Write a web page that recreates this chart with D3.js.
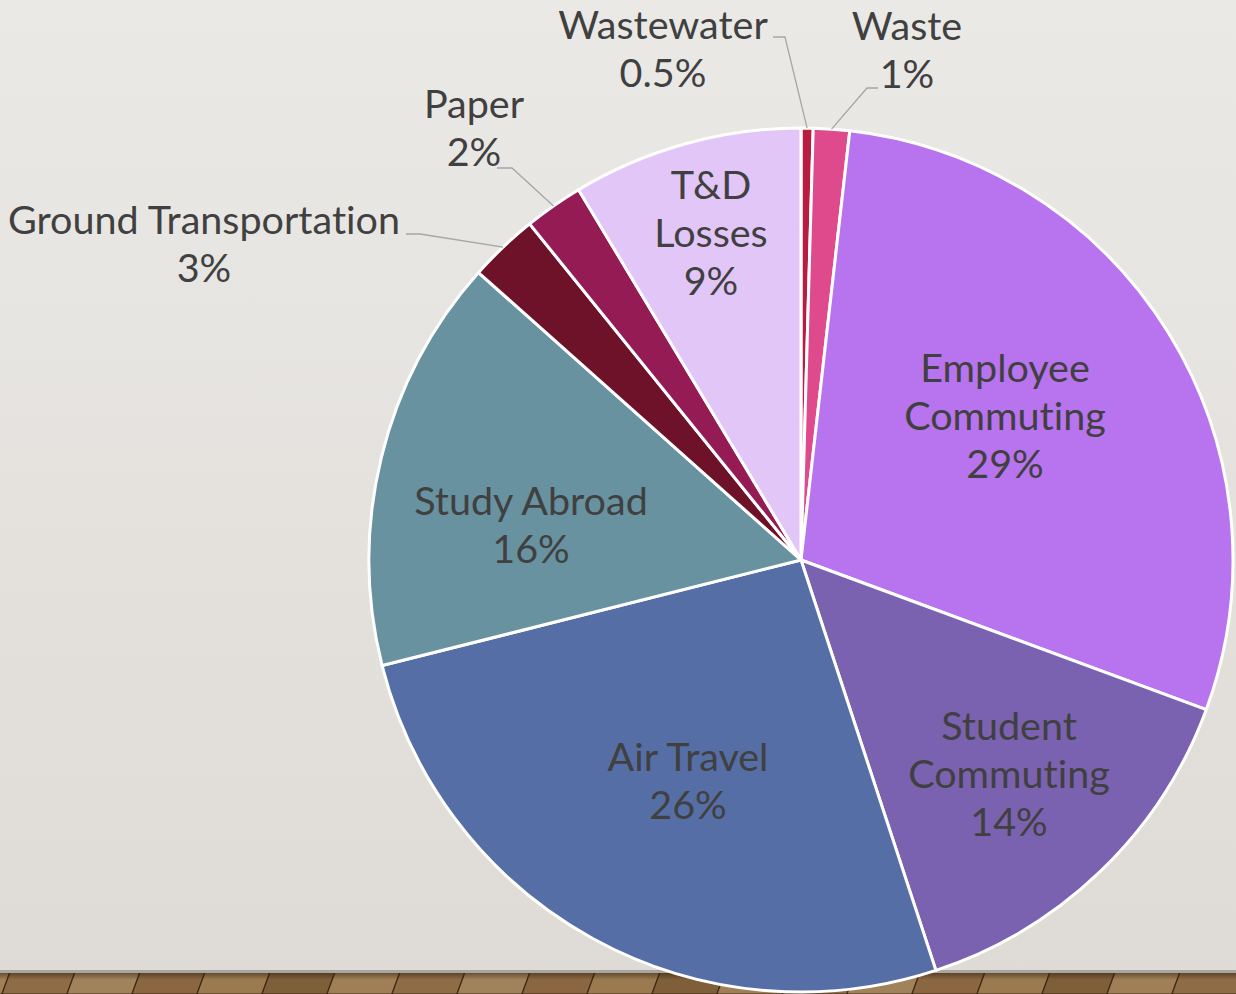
<!DOCTYPE html>
<html>
<head>
<meta charset="utf-8">
<script src="https://cdn.jsdelivr.net/npm/d3@7"></script>
<style>
  body { margin: 0; overflow: hidden; }
  svg { display: block; }
  text { font-variant-ligatures: none; }
</style>
</head>
<body>
<script>

// Slices, clockwise from 12 o'clock
var categories = ["Wastewater", "Waste", "Employee Commuting", "Student Commuting", "Air Travel",
                  "Study Abroad", "Ground Transportation", "Paper", "T&D Losses"];
var shares = [0.45, 1.35, 28.8, 14.3, 26.1, 15.5, 2.6, 2.2, 8.6];
var shareLabels = ["0.5%", "1%", "29%", "14%", "26%", "16%", "3%", "2%", "9%"];
var colors = ["#b81c40", "#de4a8c", "#b873ee", "#7a62b0", "#566ea6",
              "#6892a0", "#6e1229", "#951b55", "#e2c6f7"];

// how each category name is broken into lines
var nameLines = [["Wastewater"], ["Waste"], ["Employee", "Commuting"], ["Student", "Commuting"],
                 ["Air Travel"], ["Study Abroad"], ["Ground Transportation"], ["Paper"], ["T&D", "Losses"]];

var w = 1236;
var h = 994;
var cx = 801, cy = 560, radius = 432;
var lineGap = 48;

// label placement: centre x and first baseline, and leader line start for outside ones
var labelPos = [
  {x: 663, y: 39, outside: true, lx: 773, ly: 37, ex: 785},
  {x: 907, y: 40, outside: true, lx: 878, ly: 88, ex: 867},
  {x: 1005, y: 382},
  {x: 1009, y: 740},
  {x: 688, y: 771},
  {x: 531, y: 515},
  {x: 204, y: 234, outside: true, lx: 406, ly: 234, ex: 420},
  {x: 474, y: 118, outside: true, lx: 497, ly: 168, ex: 512},
  {x: 711, y: 199}
];

var svg = d3.select("body").append("svg")
  .attr("width", w)
  .attr("height", h);

var defs = svg.append("defs");

var wall = defs.append("linearGradient")
  .attr("id", "wall")
  .attr("x1", 0).attr("y1", 0).attr("x2", 0).attr("y2", 1);
wall.append("stop").attr("offset", "0%").attr("stop-color", "#ebe9e6");
wall.append("stop").attr("offset", "100%").attr("stop-color", "#dedbd6");

var shade = defs.append("linearGradient")
  .attr("id", "floorShade")
  .attr("x1", 0).attr("y1", 0).attr("x2", 0).attr("y2", 1);
shade.append("stop").attr("offset", "0%").attr("stop-color", "#2a1a0a").attr("stop-opacity", 0.55);
shade.append("stop").attr("offset", "35%").attr("stop-color", "#2a1a0a").attr("stop-opacity", 0);

// background wall and floor
svg.append("rect")
  .attr("width", w)
  .attr("height", h)
  .attr("fill", "url(#wall)");

var floorTop = 972;
var plankW = 65;
var plankShades = ["#8e6c46", "#a1835b", "#8a6741", "#9b7a50", "#7f5e3a", "#a07f56"];
var planks = d3.range(-1, Math.ceil(w / plankW) + 1);

svg.append("g").selectAll("polygon")
  .data(planks)
  .enter()
  .append("polygon")
  .attr("points", function(k) {
    var x0 = k * plankW + 10, x1 = (k + 1) * plankW + 10;
    return [[x0, floorTop], [x1, floorTop], [x1 - 8, h], [x0 - 8, h]].join(" ");
  })
  .attr("fill", function(k) { return plankShades[(k + 6) % plankShades.length]; })
  .attr("stroke", "#3e2914")
  .attr("stroke-width", 1.2);

svg.append("rect")
  .attr("y", floorTop)
  .attr("width", w)
  .attr("height", h - floorTop)
  .attr("fill", "url(#floorShade)");

svg.append("rect")
  .attr("y", floorTop - 2)
  .attr("width", w)
  .attr("height", 3)
  .attr("fill", "#a9a6a1");

// pie
var pie = d3.pie().sort(null).value(function(v) { return v; });
var arcs = pie(shares);

var arc = d3.arc()
  .innerRadius(0)
  .outerRadius(radius);

var edge = d3.arc()
  .innerRadius(radius)
  .outerRadius(radius);

var graph = svg.append("g")
  .attr("transform", "translate(" + cx + "," + cy + ")");

graph.selectAll("path")
  .data(arcs)
  .enter()
  .append("path")
  .attr("d", arc)
  .attr("fill", function(a, i) { return colors[i]; })
  .attr("stroke", "#ffffff")
  .attr("stroke-width", 3)
  .attr("stroke-linejoin", "round");

// leader lines for the small outside slices
arcs.forEach(function(a, i) {
  var p = labelPos[i];
  if (!p.outside) return;
  var end = edge.centroid(a);
  svg.append("polyline")
    .attr("points", [[p.lx, p.ly], [p.ex, p.ly], [cx + end[0], cy + end[1]]].join(" "))
    .attr("fill", "none")
    .attr("stroke", "#a6a6a6")
    .attr("stroke-width", 1.3);
});

// labels
var labels = svg.append("g")
  .attr("font-family", "Lato, 'Open Sans', sans-serif")
  .attr("font-size", 39.5)
  .attr("fill", "#404040")
  .attr("text-anchor", "middle");

categories.forEach(function(c, i) {
  var p = labelPos[i];
  var lines = nameLines[i].concat([shareLabels[i]]);
  var t = labels.append("text")
    .attr("x", p.x)
    .attr("y", p.y);
  lines.forEach(function(s, j) {
    t.append("tspan")
      .attr("x", p.x)
      .attr("dy", j == 0 ? 0 : lineGap)
      .text(s);
  });
});

</script>
</body>
</html>
